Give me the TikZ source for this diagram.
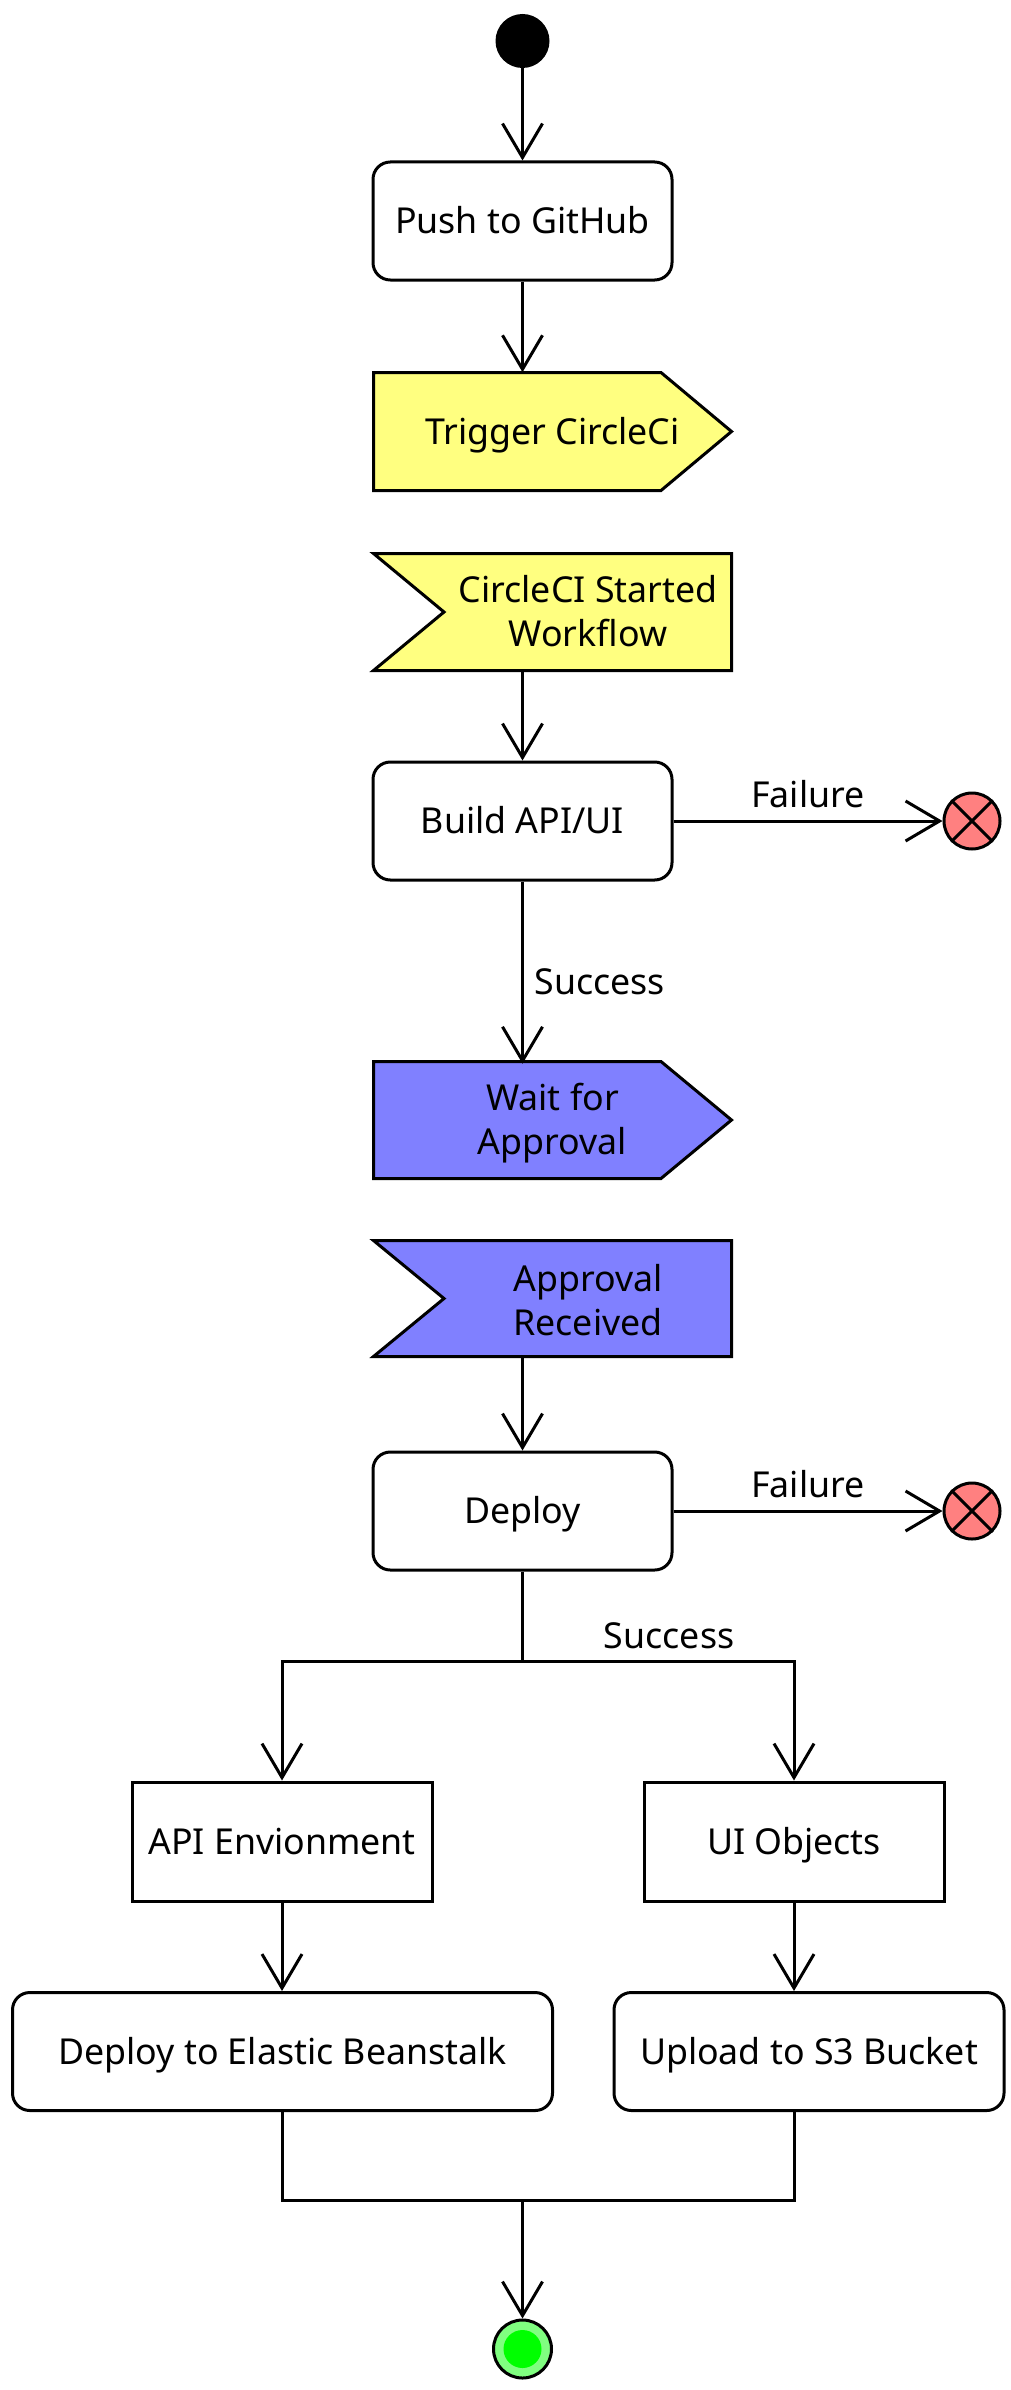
\documentclass[tikz,border=0pt]{standalone}
\usepackage{fontspec}
\setmainfont{Noto Sans}
\usetikzlibrary{arrows.meta,calc}
\definecolor{sigyellow}{HTML}{FFFF80}
\definecolor{sigblue}{HTML}{8080FF}
\definecolor{endred}{HTML}{FF8080}
\definecolor{endgreen}{HTML}{80FF80}
\definecolor{endcore}{HTML}{00FF00}
\begin{document}
\begin{tikzpicture}[x=0.75pt,y=-0.75pt,
  every node/.style={font=\fontsize{26.8pt}{33pt}\selectfont, align=center},
  oneline/.style={text height=19pt, text depth=0pt},
  lw/.style={line width=2.25pt},
  actbox/.style={lw, draw, fill=white, rounded corners=13pt, minimum width=224.25pt, minimum height=88.5pt, inner sep=0pt, oneline},
  plainbox/.style={lw, draw, fill=white, minimum width=225pt, minimum height=89.25pt, inner sep=0pt, oneline},
  sigtext/.style={inner sep=0pt, minimum height=88.5pt},
  sigshape/.style={lw, draw, line join=miter},
  flow/.style={lw, -{Straight Barb[length=25.5pt,width=30pt,line width=2.25pt]}},
  plainline/.style={lw},
  endx/.style={lw, draw, circle, fill=endred, minimum size=42pt, inner sep=0pt},
  edgelabel/.style={inner sep=0pt, oneline}
]
\useasboundingbox (0,0) rectangle (1010,2390);

% start
\node[circle, fill=black, minimum size=40.5pt, inner sep=0pt] (start) at (522.5,41) {};

% Push to GitHub
\node[actbox] (push) at (522.5,221) {Push to GitHub};

% Trigger CircleCi (send signal)
\filldraw[sigshape, fill=sigyellow] (373.5,372.5) -- (661,372.5) -- (731.5,431.5) -- (661,490.5) -- (373.5,490.5) -- cycle;
\node[sigtext, oneline, minimum width=270.75pt] (trig) at (552.5,431.5) {Trigger CircleCi};

% CircleCI Started Workflow (receive signal)
\filldraw[sigshape, fill=sigyellow] (373.5,553.5) -- (731.5,553.5) -- (731.5,670.5) -- (373.5,670.5) -- (444,612) -- cycle;
\node[sigtext, minimum width=217.5pt] (started) at (588,611) {CircleCI Started\\Workflow};

% Build
\node[actbox] (build) at (522.5,821) {Build API/UI};
\node[endx] (fail1) at (972,821) {};
\draw[lw] (fail1.north west) -- (fail1.south east) (fail1.north east) -- (fail1.south west);

% Wait for Approval
\filldraw[sigshape, fill=sigblue] (373.5,1061.5) -- (661,1061.5) -- (731.5,1120) -- (661,1178.5) -- (373.5,1178.5) -- cycle;
\node[sigtext, minimum width=270.75pt] (wait) at (552.5,1123) {Wait for\\Approval};

% Approval Received
\filldraw[sigshape, fill=sigblue] (373.5,1240.5) -- (731.5,1240.5) -- (731.5,1356.5) -- (373.5,1356.5) -- (444,1298.5) -- cycle;
\node[sigtext, minimum width=217.5pt, minimum height=87pt] (recv) at (588,1300) {Approval\\Received};

% Deploy
\node[actbox] (deploy) at (522.5,1511) {Deploy};
\node[endx] (fail2) at (972,1511) {};
\draw[lw] (fail2.north west) -- (fail2.south east) (fail2.north east) -- (fail2.south west);

% branches
\coordinate (split) at (522.5,1661);
\node[plainbox] (api) at (282,1841.5) {API Envionment};
\node[plainbox] (ui) at (794,1841.5) {UI Objects};
\node[actbox, minimum width=405pt, minimum height=88.5pt] (deb) at (282.5,2051.5) {Deploy to Elastic Beanstalk};
\node[actbox, minimum width=292.5pt, minimum height=88.5pt] (up) at (809,2051.5) {Upload to S3 Bucket};
\coordinate (join) at (522.5,2200);

% end
\node[lw, draw, circle, fill=endgreen, minimum size=43.5pt, inner sep=0pt] (end) at (522.5,2349) {};
\fill[endcore] (end.center) circle[radius=14.25pt];

% connectors
\draw[flow] (start) -- (push);
\draw[flow] (push.south) -- (push.south |- trig.north);
\draw[flow] (build.north |- started.south) -- (build.north);
\draw[flow] (build.east) -- (fail1.west) node[edgelabel, midway, yshift=19.5pt] {Failure};
\draw[flow] (build.south) -- (build.south |- wait.north) node[edgelabel, pos=0.55, anchor=west, xshift=8pt] {Success};
\draw[flow] (deploy.north |- recv.south) -- (deploy.north);
\draw[flow] (deploy.east) -- (fail2.west) node[edgelabel, midway, yshift=19.5pt] {Failure};
\draw[plainline] (deploy.south) -- (split);
\draw[flow] (split) -| (ui.north) node[edgelabel, pos=0.27, yshift=19pt] {Success};
\draw[flow] (split) -| (api.north);
\draw[flow] (api.south) -- (api.south |- deb.north);
\draw[flow] (ui.south) -- (ui.south |- up.north);
\draw[plainline] (deb.south -| api.south) |- (join);
\draw[plainline] (up.south -| ui.south) |- (join);
\draw[flow] (join) -- (end);
\end{tikzpicture}
\end{document}
